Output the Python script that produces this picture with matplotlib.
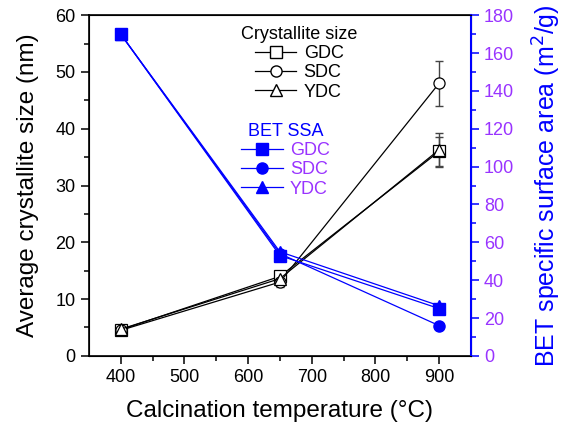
import matplotlib.pyplot as plt
from matplotlib.lines import Line2D

plt.rcParams['font.family'] = ['Arial', 'Liberation Sans', 'DejaVu Sans']

# data
temp = [400, 650, 900]
size_gdc = [4.6, 14.0, 36.0]
size_sdc = [4.5, 13.0, 48.0]
size_ydc = [4.7, 13.6, 36.3]
err_gdc = [0.4, 0.8, 2.5]
err_sdc = [0.4, 0.8, 4.0]
err_ydc = [0.4, 0.8, 3.0]
bet_gdc = [170, 53, 25]
bet_sdc = [170, 54, 16]
bet_ydc = [170, 55, 26.5]

blue = '#0000ff'
purple = '#9933ff'

fig, ax = plt.subplots(figsize=(5.66, 4.34), dpi=100)
plt.subplots_adjust(left=0.157, right=0.832, top=0.965, bottom=0.18)
ax2 = ax.twinx()

# 結晶子サイズ
for y, e, m in [(size_gdc, err_gdc, 's'), (size_sdc, err_sdc, 'o'), (size_ydc, err_ydc, '^')]:
    ax.errorbar(temp, y, yerr=e, fmt='none', ecolor='#444444', elinewidth=1, capsize=3, zorder=2)
    ax.plot(temp, y, color='black', lw=0.9, marker=m, ms=8, mfc='white', mec='black', mew=0.9, zorder=3)

# BET
for y, m in [(bet_gdc, 's'), (bet_sdc, 'o'), (bet_ydc, '^')]:
    ax2.plot(temp, y, color=blue, lw=0.9, marker=m, ms=8, mfc=blue, mec=blue)

ax.set_xlim(350, 950)
ax.set_ylim(0, 60)
ax2.set_ylim(0, 180)
ax.set_xticks([400, 500, 600, 700, 800, 900])
ax.set_yticks(range(0, 61, 10))
ax2.set_yticks(range(0, 181, 20))
ax.set_xticks(range(450, 950, 100), minor=True)
ax.set_yticks(range(5, 60, 10), minor=True)
ax2.set_yticks(range(10, 180, 20), minor=True)

ax.tick_params(axis='both', which='major', labelsize=13, direction='out', length=6, width=1.1)
ax.tick_params(axis='both', which='minor', direction='out', length=3.5, width=1.1)
ax2.tick_params(axis='y', which='major', labelsize=13, colors=blue, labelcolor=purple, length=6, width=1.1)
ax2.tick_params(axis='y', which='minor', colors=blue, length=3.5, width=1.1)
ax2.spines['right'].set_color(blue)
ax2.spines['right'].set_linewidth(1.5)
for s in ['left', 'bottom', 'top']:
    ax.spines[s].set_linewidth(1.2)

ax.set_xlabel('Calcination temperature (°C)', fontsize=17.5, labelpad=10)
ax.set_ylabel('Average crystallite size (nm)', fontsize=17.5, labelpad=12)
ax2.set_ylabel('BET specific surface area (m$^2$/g)', fontsize=18, color=blue, labelpad=12)

# 凡例
h1 = [Line2D([], [], color='black', lw=0.9, marker=m, ms=8, mfc='white', mec='black') for m in 'so^']
leg1 = ax.legend(h1, ['GDC', 'SDC', 'YDC'], title='Crystallite size', frameon=False,
                 fontsize=13, title_fontsize=13, loc='upper left', bbox_to_anchor=(0.37, 1.0),
                 handlelength=2.3, labelspacing=0.12, handletextpad=0.4, borderaxespad=0.2)
ax.add_artist(leg1)
h2 = [Line2D([], [], color=blue, lw=0.9, marker=m, ms=8, mfc=blue, mec=blue) for m in 'so^']
leg2 = ax.legend(h2, ['GDC', 'SDC', 'YDC'], title='BET SSA', frameon=False,
                 fontsize=13, title_fontsize=13, loc='upper left', bbox_to_anchor=(0.37, 0.715),
                 handlelength=2.3, labelspacing=0.12, handletextpad=0.4, borderaxespad=0.2)
leg2.get_title().set_color(blue)
for t in leg2.get_texts():
    t.set_color(purple)

fig.savefig('out.png')
